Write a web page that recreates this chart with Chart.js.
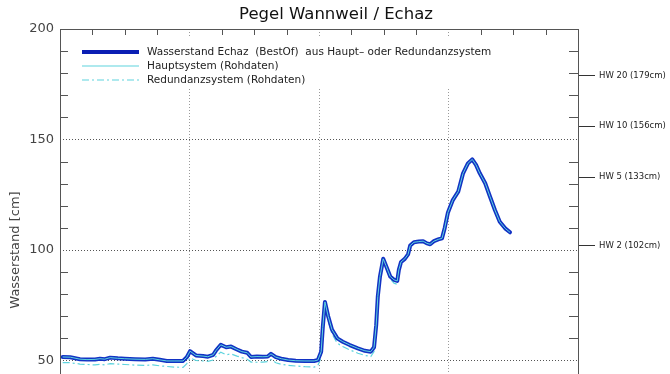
<!DOCTYPE html>
<html>
<head>
<meta charset="utf-8">
<script src="https://cdn.jsdelivr.net/npm/chart.js@4.4.0/dist/chart.umd.min.js"></script>
<style>
html, body { margin: 0; padding: 0; background: #fff; overflow: hidden; }
#wrap { width: 670px; height: 374px; overflow: hidden; }
canvas { display: block; }
</style>
</head>
<body>
<div id="wrap"><canvas id="pegelChart" width="670" height="500"></canvas></div>
<script>
// Pegel Wannweil / Echaz (Stunden seit Beginn, cm)
const TITLE = 'Pegel Wannweil / Echaz';
const Y_TITLE = 'Wasserstand [cm]';

const HOURS = [0.5, 1.9, 3.7, 5.0, 6.5, 7.4, 8.3, 9.3, 10.7, 12.0,
    13.9, 15.8, 17.2, 18.5, 19.8, 21.3, 22.8, 23.5, 24.1, 25.2,
    26.5, 27.4, 28.4, 28.9, 29.8, 30.8, 31.7, 32.8, 33.7, 34.7,
    35.4, 36.5, 37.6, 38.5, 39.1, 40.0, 41.0, 42.3, 43.7, 45.4,
    47.1, 47.8, 48.4, 48.7, 49.1, 49.7, 50.4, 51.4, 52.4, 53.7,
    55.2, 56.5, 57.6, 58.2, 58.6, 58.9, 59.3, 59.9, 60.4, 61.2,
    61.9, 62.5, 62.8, 63.2, 63.9, 64.5, 64.9, 65.6, 66.5, 67.3,
    68.0, 68.6, 69.3, 70.1, 70.8, 71.3, 71.9, 72.8, 73.8, 74.7,
    75.6, 76.4, 77.1, 77.8, 78.8, 79.7, 80.6, 81.5, 82.5, 83.4];

const BEST_OF = [51.6, 51.5, 50.6, 50.4, 50.5, 50.8, 50.6, 51.3, 51.0, 50.8,
    50.6, 50.5, 50.8, 50.3, 49.8, 49.8, 49.8, 51.5, 54.2, 52.3,
    52.0, 51.7, 52.6, 54.5, 57.1, 56.0, 56.3, 55.0, 54.0, 53.5,
    51.6, 51.8, 51.7, 51.8, 53.0, 51.5, 50.8, 50.2, 49.9, 49.8,
    49.8, 50.2, 54.0, 65.0, 76.5, 70.0, 64.0, 60.0, 58.5, 57.0,
    55.5, 54.4, 54.0, 56.0, 66.0, 79.0, 88.0, 96.0, 93.0, 88.0,
    86.5, 86.0, 91.0, 94.6, 96.0, 98.0, 102.0, 103.5, 103.8, 104.0,
    103.0, 102.6, 104.0, 104.8, 105.3, 110.0, 117.0, 122.6, 126.4, 134.7,
    139.2, 141.0, 138.5, 134.7, 130.2, 124.1, 118.1, 112.8, 109.8, 108.0];

// Hauptsystem liegt im Bild deckungsgleich auf BestOf
const HAUPT = BEST_OF;

const REDUNDANZ = [49.0, 49.0, 48.4, 48.2, 48.0, 48.3, 48.0, 48.6, 48.4, 48.2,
    47.9, 47.8, 48.0, 47.6, 47.3, 47.0, 46.9, 48.6, 51.2, 50.0,
    49.8, 49.6, 50.2, 51.8, 53.8, 52.6, 53.0, 52.0, 51.3, 50.6,
    49.3, 49.2, 49.3, 49.5, 50.5, 49.0, 48.3, 47.8, 47.5, 47.2,
    47.0, 47.8, 51.5, 62.5, 74.5, 68.0, 62.0, 57.8, 56.3, 54.8,
    53.3, 52.3, 51.8, 54.0, 65.0, 78.0, 87.5, 95.5, 92.5, 87.0,
    85.0, 84.5, 90.0, 94.0, 95.5, 97.5, 101.5, 103.2, 103.6, 104.0,
    103.0, 102.4, 104.0, 104.6, 105.0, 110.0, 117.0, 122.6, 126.4, 134.7,
    139.2, 141.0, 138.5, 134.7, 130.2, 124.1, 118.1, 112.8, 109.8, 108.0];

const HW_LEVELS = [102, 133, 156, 179];
const HW_LABELS = ['HW 2 (102cm)', 'HW 5 (133cm)', 'HW 10 (156cm)', 'HW 20 (179cm)'];

const LEGEND_TEXTS = [
    'Wasserstand Echaz  (BestOf)  aus Haupt\u2013 oder Redundanzsystem',
    'Hauptsystem (Rohdaten)',
    'Redundanzsystem (Rohdaten)'
];

const BLUE = '#1232c4';
const CYAN = '#5fd4de';
const DASH_DOT = [7, 3, 2, 3];

function toPoints(xs, ys) {
    return xs.map((h, i) => ({ x: h, y: ys[i] }));
}

// Rahmen, innere Ticks, Titel und Legende
const pegelDeko = {
    id: 'pegelDeko',
    beforeDatasetsDraw(chart) {
        const ctx = chart.ctx;
        ctx.save();
        ctx.fillStyle = '#fff';
        ctx.fillRect(66, 38, 440, 51);
        ctx.restore();
    },
    afterDraw(chart) {
        const { ctx, chartArea: a, scales } = chart;
        const xs = scales.x, ys = scales.y;
        ctx.save();
        ctx.strokeStyle = '#555';
        ctx.lineWidth = 1;
        ctx.strokeRect(Math.round(a.left) + 0.5, Math.round(a.top) + 0.5,
            Math.round(a.right - a.left), Math.round(a.bottom - a.top));

        ctx.beginPath();
        for (let h = 6; h < 96; h += 6) {
            if (h % 24 === 0) continue;
            const px = Math.round(xs.getPixelForValue(h)) + 0.5;
            ctx.moveTo(px, a.top);
            ctx.lineTo(px, a.top + 6);
        }
        for (let v = 10; v < 200; v += 10) {
            if (v % 50 === 0) continue;
            const py = Math.round(ys.getPixelForValue(v)) + 0.5;
            ctx.moveTo(a.left, py);
            ctx.lineTo(a.left + 8, py);
            ctx.moveTo(a.right, py);
            ctx.lineTo(a.right - 9, py);
        }
        ctx.stroke();

        // Titel
        ctx.fillStyle = '#111';
        ctx.font = '16.5px "DejaVu Sans"';
        ctx.textAlign = 'center';
        ctx.textBaseline = 'alphabetic';
        ctx.fillText(TITLE, 336, 19);

        // Legende
        const rows = [52, 66, 80];
        const styles = [
            { color: '#0a1eb4', width: 4, dash: [] },
            { color: CYAN, width: 1.2, dash: [] },
            { color: CYAN, width: 1.2, dash: DASH_DOT }
        ];
        ctx.font = '10.5px "DejaVu Sans"';
        ctx.textAlign = 'left';
        ctx.textBaseline = 'middle';
        rows.forEach((ry, i) => {
            const s = styles[i];
            ctx.beginPath();
            ctx.strokeStyle = s.color;
            ctx.lineWidth = s.width;
            ctx.setLineDash(s.dash);
            ctx.moveTo(82, ry);
            ctx.lineTo(139, ry);
            ctx.stroke();
            ctx.setLineDash([]);
            ctx.fillStyle = '#222';
            ctx.fillText(LEGEND_TEXTS[i], 147, ry);
        });
        ctx.restore();
    }
};

const ctx = document.getElementById('pegelChart');
new Chart(ctx.getContext('2d'), {
    type: 'line',
    data: {
        datasets: [
            {
                label: 'Hauptsystem (Rohdaten)',
                data: toPoints(HOURS, HAUPT),
                borderColor: CYAN,
                borderWidth: 1,
                order: 1
            },
            {
                label: 'Wasserstand Echaz (BestOf)',
                data: toPoints(HOURS, BEST_OF),
                borderColor: BLUE,
                borderWidth: 4,
                borderJoinStyle: 'round',
                borderCapStyle: 'round',
                order: 2
            },
            {
                label: 'Redundanzsystem (Rohdaten)',
                data: toPoints(HOURS, REDUNDANZ),
                borderColor: CYAN,
                borderWidth: 1.2,
                borderDash: DASH_DOT,
                order: 3
            }
        ]
    },
    options: {
        responsive: false,
        animation: false,
        layout: { padding: { top: 29, bottom: 29, left: 0, right: 0 } },
        elements: { point: { radius: 0 }, line: { tension: 0 } },
        plugins: {
            legend: { display: false },
            title: { display: false },
            tooltip: { enabled: false }
        },
        scales: {
            x: {
                type: 'linear',
                min: 0,
                max: 96,
                ticks: { display: false, stepSize: 24 },
                grid: {
                    drawTicks: false,
                    color: (c) => (c.tick && c.tick.value > 0 && c.tick.value < 96) ? '#9a9a9a' : 'rgba(0,0,0,0)'
                },
                border: { display: false, dash: [1, 2] },
                afterFit: (s) => { s.height = 0; }
            },
            y: {
                position: 'left',
                min: 0,
                max: 200,
                ticks: {
                    stepSize: 10,
                    autoSkip: false,
                    padding: 6,
                    color: '#444',
                    font: { family: 'DejaVu Sans', size: 13 },
                    callback: (v) => (v % 50 === 0 && v > 0) ? String(v) : ''
                },
                grid: {
                    drawTicks: false,
                    color: (c) => (c.tick && c.tick.value % 50 === 0 && c.tick.value > 0 && c.tick.value < 200) ? '#555' : 'rgba(0,0,0,0)'
                },
                border: { display: false, dash: [1, 2] },
                title: {
                    display: true,
                    text: Y_TITLE,
                    color: '#444',
                    font: { family: 'DejaVu Sans', size: 13 },
                    padding: { top: 8, bottom: 0 }
                },
                afterFit: (s) => { s.width = 60; }
            },
            hw: {
                position: 'right',
                min: 0,
                max: 200,
                afterBuildTicks: (s) => { s.ticks = HW_LEVELS.map(v => ({ value: v })); },
                ticks: {
                    autoSkip: false,
                    padding: 4,
                    color: '#222',
                    font: { family: 'DejaVu Sans', size: 8.5 },
                    callback: (v) => HW_LABELS[HW_LEVELS.indexOf(v)]
                },
                grid: {
                    drawOnChartArea: false,
                    drawTicks: true,
                    tickLength: 17,
                    color: '#333'
                },
                border: { display: false },
                afterFit: (s) => { s.width = 92; }
            }
        }
    },
    plugins: [pegelDeko]
});
</script>
</body>
</html>
